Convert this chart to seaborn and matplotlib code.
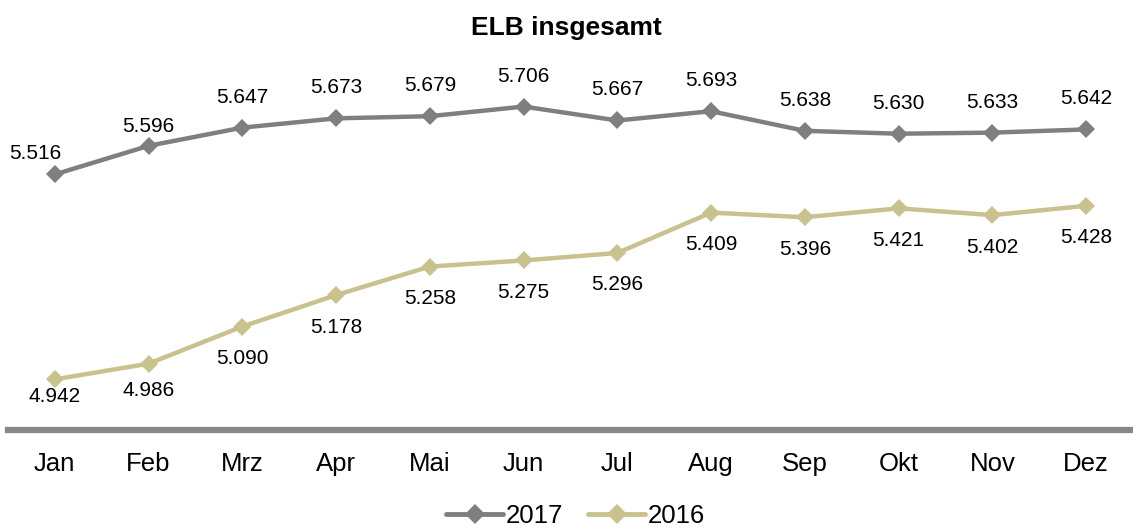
import matplotlib
matplotlib.use("Agg")
import matplotlib.pyplot as plt
import seaborn as sns
import pandas as pd
from matplotlib.lines import Line2D

months = ["Jan", "Feb", "Mrz", "Apr", "Mai", "Jun", "Jul", "Aug", "Sep", "Okt", "Nov", "Dez"]
values_2017 = [5.516, 5.596, 5.647, 5.673, 5.679, 5.706, 5.667, 5.693, 5.638, 5.630, 5.633, 5.642]
values_2016 = [4.942, 4.986, 5.090, 5.178, 5.258, 5.275, 5.296, 5.409, 5.396, 5.421, 5.402, 5.428]

sns.set_theme(style="white")
plt.rcParams["font.family"] = ["Liberation Sans", "DejaVu Sans"]
plt.rcParams["text.color"] = "black"
plt.rcParams["xtick.color"] = "black"

df = pd.DataFrame({
    "Monat": months * 2,
    "pos": list(range(12)) * 2,
    "Wert": values_2017 + values_2016,
    "Jahr": ["2017"] * 12 + ["2016"] * 12,
})
palette = {"2017": "#7f7f7f", "2016": "#c9c28f"}

fig = plt.figure(figsize=(11.33, 5.29), dpi=100)
ax = fig.add_axes([0.007, 0.187, 0.993, 0.675])

sns.lineplot(data=df, x="pos", y="Wert", hue="Jahr", palette=palette,
             marker="D", markersize=9, linewidth=3.2, markeredgewidth=0,
             ax=ax, legend=False)

ax.set_xlim(-0.5, 11.5)
ax.set_ylim(4.8, 5.8)
ax.set_xticks(range(12))
ax.set_xticklabels(months, fontsize=18.5, color="black")
ax.tick_params(axis="x", length=0, pad=16)
ax.set_yticks([])
ax.set_xlabel("")
ax.set_ylabel("")
for side in ["top", "left", "right"]:
    ax.spines[side].set_visible(False)
ax.spines["bottom"].set_color("#888888")
ax.spines["bottom"].set_linewidth(4.5)

def fmt(v):
    return f"{v:.3f}"

# value labels: 2017 above the line, 2016 below it
for i, v in enumerate(values_2017):
    dx, dy = 0, 22
    if i == 0:
        dx, dy = -14, 15
    elif i == 1:
        dy = 14
    ax.annotate(fmt(v), (i, v), xytext=(dx, dy), textcoords="offset points",
                ha="center", va="center", fontsize=15, color="black")
for i, v in enumerate(values_2016):
    dy = -23
    if i == 0:
        dy = -12
    elif i == 1:
        dy = -19
    ax.annotate(fmt(v), (i, v), xytext=(0, dy), textcoords="offset points",
                ha="center", va="center", fontsize=15, color="black")

fig.text(0.5, 0.947, "ELB insgesamt", ha="center", va="center",
         fontsize=19, fontweight="bold", color="black")

handles = [Line2D([0], [0], color=palette[k], marker="D", markersize=10,
                  linewidth=3.5, markeredgewidth=0) for k in ["2017", "2016"]]
fig.legend(handles, ["2017", "2016"], loc="center", bbox_to_anchor=(0.508, 0.024),
           ncol=2, frameon=False, fontsize=18.5, handlelength=2.2,
           handletextpad=0.1, columnspacing=1.0)

fig.savefig("out.png", dpi=100)
